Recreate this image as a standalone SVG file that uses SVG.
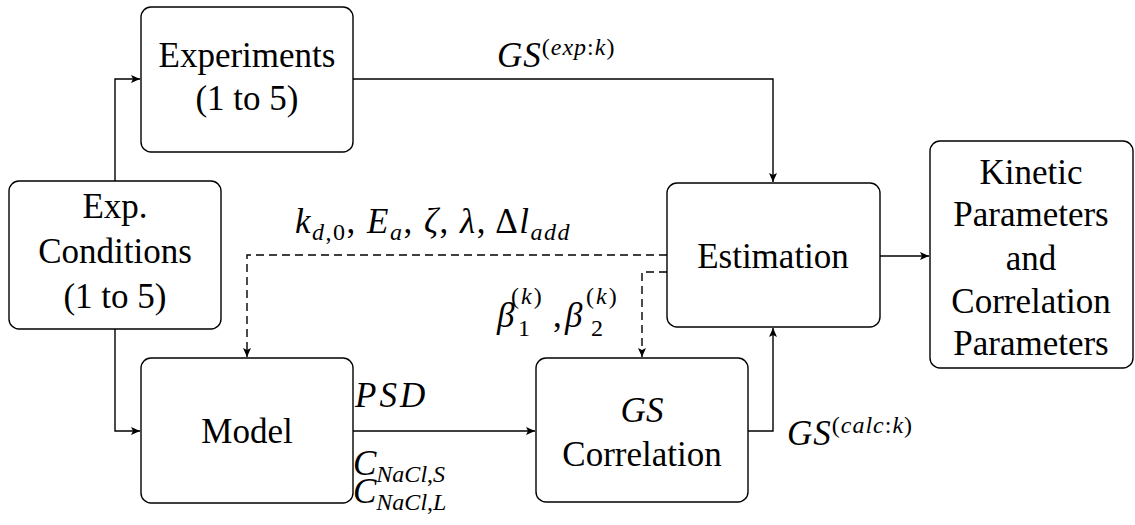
<svg xmlns="http://www.w3.org/2000/svg" width="1135" height="525" viewBox="0 0 1135 525">
<style>
.box{fill:#fff;stroke:#000;stroke-width:1.4}
.t{font-family:"Liberation Serif",serif;font-size:35px;fill:#000;text-anchor:middle}
.m{font-family:"Liberation Serif",serif;font-size:35px;fill:#000}
.s{font-size:24px}
.i{font-style:italic}
.c{fill:none;stroke:#000;stroke-width:1.4}
.d{stroke-dasharray:8 5}
</style>
<defs>
<marker id="ah" markerUnits="userSpaceOnUse" markerWidth="12" markerHeight="10" refX="9" refY="4" orient="auto">
<path d="M0,0 L9,4 L0,8 L2,4 Z" fill="#000"/>
</marker>
</defs>
<g id="connectors">
<path class="c" d="M115,181 V79 H140" marker-end="url(#ah)"/>
<path class="c" d="M115,329 V431 H140" marker-end="url(#ah)"/>
<path class="c" d="M353,79 H773 V182" marker-end="url(#ah)"/>
<path class="c" d="M353,431 H535" marker-end="url(#ah)"/>
<path class="c" d="M748,431 H773 V328" marker-end="url(#ah)"/>
<path class="c" d="M880,256 H929" marker-end="url(#ah)"/>
<path class="c d" d="M667,255 H247 V357" marker-end="url(#ah)"/>
<path class="c d" d="M667,272 H642 V357" marker-end="url(#ah)"/>
</g>
<g id="experiments">
<rect class="box" x="141" y="7" width="212" height="145" rx="10"/>
<text class="t" x="247" y="67">Experiments</text>
<text class="t" x="247" y="110">(1 to 5)</text>
</g>
<g id="conditions">
<rect class="box" x="9" y="181" width="212" height="148" rx="10"/>
<text class="t" x="115" y="218">Exp.</text>
<text class="t" x="115" y="263">Conditions</text>
<text class="t" x="115" y="308">(1 to 5)</text>
</g>
<g id="model">
<rect class="box" x="141" y="358" width="212" height="145" rx="10"/>
<text class="t" x="247" y="443">Model</text>
</g>
<g id="gscorrelation">
<rect class="box" x="536" y="358" width="212" height="144" rx="10"/>
<text class="t i" x="642" y="422">GS</text>
<text class="t" x="642" y="466">Correlation</text>
</g>
<g id="estimation">
<rect class="box" x="667" y="183" width="213" height="144" rx="10"/>
<text class="t" x="773" y="268">Estimation</text>
</g>
<g id="kinetic">
<rect class="box" x="930" y="141" width="203" height="227" rx="10"/>
<text class="t" x="1031" y="184">Kinetic</text>
<text class="t" x="1031" y="226">Parameters</text>
<text class="t" x="1031" y="270">and</text>
<text class="t" x="1031" y="313">Correlation</text>
<text class="t" x="1031" y="355">Parameters</text>
</g>
<g id="labels">
<text class="m" x="497" y="67" letter-spacing="1"><tspan class="i">GS</tspan><tspan class="s" dy="-12">(<tspan class="i">exp</tspan>:<tspan class="i">k</tspan>)</tspan></text>
<text class="m" x="433" y="233" text-anchor="middle" letter-spacing="1.5"><tspan class="i">k</tspan><tspan class="s i" dy="7">d</tspan><tspan class="s" dy="0">,0</tspan><tspan dy="-7">, </tspan><tspan class="i">E</tspan><tspan class="s i" dy="7">a</tspan><tspan dy="-7">, </tspan><tspan class="i">ζ</tspan>, <tspan class="i">λ</tspan>, Δ<tspan class="i">l</tspan><tspan class="s i" dy="7">add</tspan></text>
<text class="m i" x="497" y="327">β</text>
<text class="m s" x="518" y="336">1</text>
<text class="m s" x="511" y="304" letter-spacing="2">(<tspan class="i">k</tspan>)</text>
<text class="m" x="553" y="327">,</text>
<text class="m i" x="565" y="327">β</text>
<text class="m s" x="591" y="336">2</text>
<text class="m s" x="586" y="304" letter-spacing="2">(<tspan class="i">k</tspan>)</text>
<text class="m i" x="355" y="407" letter-spacing="3">PSD</text>
<text class="m" x="353" y="475"><tspan class="i">C</tspan><tspan class="s" dy="7"><tspan class="i">NaCl</tspan>,<tspan class="i">S</tspan></tspan></text>
<text class="m" x="353" y="503"><tspan class="i">C</tspan><tspan class="s" dy="7"><tspan class="i">NaCl</tspan>,<tspan class="i">L</tspan></tspan></text>
<text class="m" x="787" y="445" letter-spacing="1"><tspan class="i">GS</tspan><tspan class="s" dy="-12">(<tspan class="i">calc</tspan>:<tspan class="i">k</tspan>)</tspan></text>
</g>
</svg>
